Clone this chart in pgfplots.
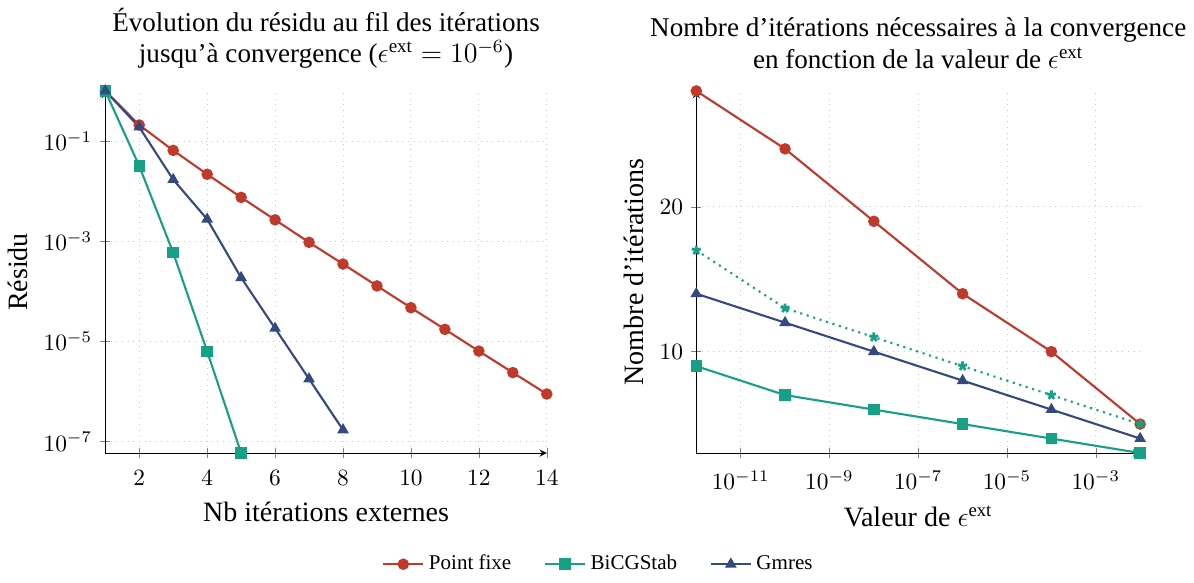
\documentclass[border=0pt]{standalone}
\usepackage{amsmath}
\usepackage{fontspec}
\setmainfont{Liberation Serif}
\usepackage{pgfplots}
\pgfplotsset{compat=1.18}
\definecolor{cred}{HTML}{C0392B}
\definecolor{cteal}{HTML}{16A085}
\definecolor{cblue}{HTML}{34497F}
\pgfplotsset{common/.style={
  scale only axis,
  axis lines=left,
  grid=major,
  grid style={dotted, gray!45},
  tick align=center,
  clip=false,
  title style={align=center, font=\fontsize{11.6}{13.6}\selectfont},
  label style={font=\large},
  xticklabel style={yshift=-2pt},
  every axis plot/.append style={line width=0.9pt},
  mark size=2pt,
}}
\begin{document}
\begin{tikzpicture}
\begin{axis}[common,
  width=189pt, height=155pt,
  ymode=log,
  xmin=1, xmax=14, ymin=5.9e-8, ymax=1,
  xtick={2,4,...,14},
  ytick={1e-1,1e-3,1e-5,1e-7},
  title={Évolution du résidu au fil des itérations\\jusqu'à convergence ($\epsilon^{\text{ext}}=10^{-6}$)},
  xlabel={Nb itérations externes},
  ylabel={Résidu},
  legend style={at={(1.12,-0.307)}, anchor=center, draw=none, font=\small, /tikz/every even column/.append style={column sep=12pt}},
  legend columns=3,
]
\addplot[cred, mark=*] coordinates {
(1,1) (2,0.209) (3,0.065) (4,0.0217) (5,0.0075) (6,0.00267) (7,9.5e-4) (8,3.5e-4)
(9,1.28e-4) (10,4.7e-5) (11,1.74e-5) (12,6.4e-6) (13,2.38e-6) (14,8.9e-7)};
\addlegendentry{Point fixe}
\addplot[cteal, mark=square*] coordinates {
(1,1) (2,0.0318) (3,5.9e-4) (4,6.3e-6) (5,5.9e-8)};
\addlegendentry{BiCGStab}
\addplot[cblue, mark=triangle*] coordinates {
(1,1) (2,0.19) (3,0.017) (4,0.00275) (5,1.87e-4) (6,1.82e-5) (7,1.78e-6) (8,1.71e-7)};
\addlegendentry{Gmres}
\end{axis}
\begin{axis}[common,
  at={(253pt,0pt)},
  width=190pt, height=155pt,
  xmode=log,
  xmin=1e-12, xmax=1e-2, ymin=3, ymax=28,
  xtick={1e-11,1e-9,1e-7,1e-5,1e-3},
  ytick={10,20},
  title={Nombre d'itérations nécessaires à la convergence\\en fonction de la valeur de $\epsilon^{\text{ext}}$},
  xlabel={Valeur de $\epsilon^{\text{ext}}$},
  ylabel={Nombre d'itérations},
]
\addplot[cred, mark=*] coordinates {
(1e-12,28) (1e-10,24) (1e-8,19) (1e-6,14) (1e-4,10) (1e-2,5)};
\addplot[cteal, dotted, mark=star, mark options={solid, line width=1.2pt}] coordinates {
(1e-12,17) (1e-10,13) (1e-8,11) (1e-6,9) (1e-4,7) (1e-2,5)};
\addplot[cteal, mark=square*] coordinates {
(1e-12,9) (1e-10,7) (1e-8,6) (1e-6,5) (1e-4,4) (1e-2,3)};
\addplot[cblue, mark=triangle*] coordinates {
(1e-12,14) (1e-10,12) (1e-8,10) (1e-6,8) (1e-4,6) (1e-2,4)};
\end{axis}
\end{tikzpicture}
\end{document}
